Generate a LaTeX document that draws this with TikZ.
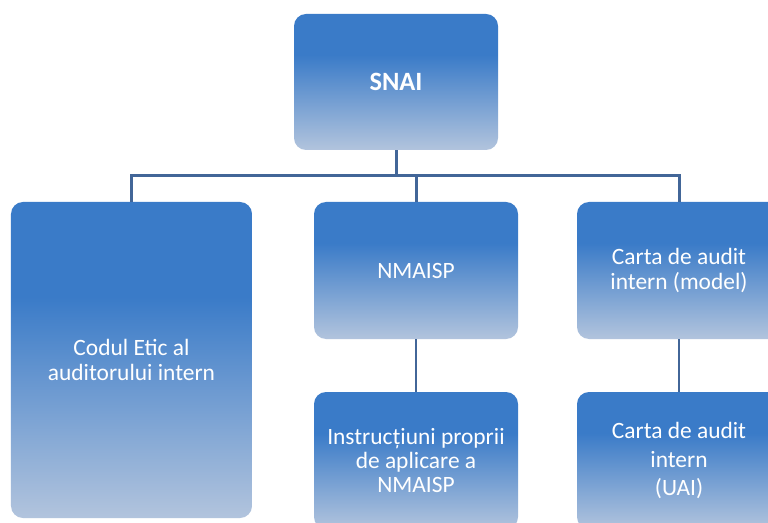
\documentclass[tikz,border=0pt]{standalone}
\usepackage{fontspec}
\setmainfont{Carlito}
\definecolor{boxdark}{RGB}{58,123,200}
\definecolor{boxlight}{RGB}{178,196,221}
\definecolor{linkcol}{RGB}{66,102,152}
% vertical fill: solid blue over the upper third, fading to pale blue at the bottom
\pgfdeclareverticalshading{boxgrad}{100bp}{%
  color(0bp)=(boxlight); color(25bp)=(boxlight); color(60bp)=(boxdark);
  color(75bp)=(boxdark); color(100bp)=(boxdark)}
\tikzset{
  orgbox/.style={rectangle, rounded corners=12bp, shading=boxgrad,
    text=white, align=center, inner sep=0pt,
    font=\fontsize{23.5}{25.5}\selectfont},
  smallbox/.style={orgbox, minimum width=204bp, minimum height=137bp},
  link/.style={draw=linkcol, line width=3bp},
  sublink/.style={draw=linkcol, line width=2.2bp},
}
\begin{document}
\begin{tikzpicture}[x=1bp, y=-1bp]
  \useasboundingbox (0,0) rectangle (768,523);
  \clip (0,0) rectangle (768,523);
  \fill[white] (0,0) rectangle (768,523);

  % boxes
  \node[smallbox, minimum height=136bp, font=\fontsize{26.5}{30}\selectfont\bfseries]
    (snai) at (396,82) {SNAI};
  \node[orgbox, minimum width=241bp, minimum height=316bp]
    (codul) at (131.5,360) {Codul Etic al\\auditorului intern};
  \node[smallbox] (nmaisp) at (416,270.5) {NMAISP};
  \node[smallbox] (instr) at (416,460.5)
    {Instrucțiuni proprii\\[-1bp]de aplicare a\\[-1bp]NMAISP};
  \node[smallbox] (cartam) at (679,270.5)
    {Carta de audit\\intern (model)};
  \node[smallbox] (cartau) at (679,460.5)
    {Carta de audit\\[3bp]intern\\[3bp](UAI)};

  % tree connectors
  \coordinate (bar) at (0,176);
  \draw[link] (snai.south) -- (snai.south |- bar);
  \draw[link] (codul.north) -- (codul.north |- bar)
    -- (cartam.north |- bar) -- (cartam.north);
  \draw[link] (nmaisp.north) -- (nmaisp.north |- bar);
  \draw[sublink] (nmaisp.south) -- (instr.north);
  \draw[sublink] (cartam.south) -- (cartau.north);
\end{tikzpicture}
\end{document}
